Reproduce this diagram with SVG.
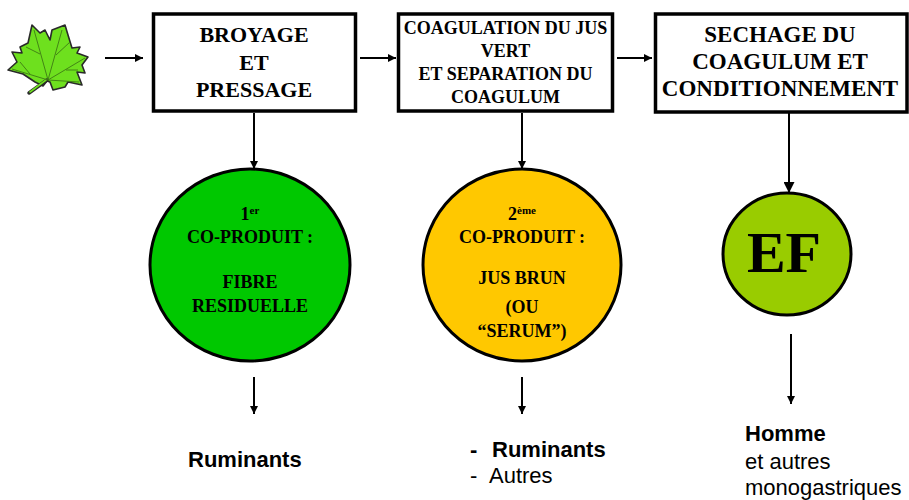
<svg xmlns="http://www.w3.org/2000/svg" width="909" height="500" viewBox="0 0 909 500">
<defs>
<style>
.box{fill:#fff;stroke:#000;stroke-width:3.5}
.bt{font-family:"Liberation Serif","Times New Roman",serif;font-weight:bold;fill:#000;text-anchor:middle}
.ct{font-family:"Liberation Serif","Times New Roman",serif;font-weight:bold;font-size:18px;fill:#000;text-anchor:middle}
.sup{font-size:11px}
.lt{font-family:"Liberation Sans",Arial,sans-serif;font-size:22px;fill:#000}
.b{font-weight:bold}
.con{stroke:#000;stroke-width:2;fill:none}
.circ{stroke:#000;stroke-width:3}
</style>
<marker id="ah" viewBox="0 0 10 10" refX="10" refY="5" markerWidth="9" markerHeight="8" markerUnits="userSpaceOnUse" orient="auto">
<path d="M0,0 L10,5 L0,10 z" fill="#000"/>
</marker>
<marker id="ahb" viewBox="0 0 10 10" refX="10" refY="5" markerWidth="12" markerHeight="11" markerUnits="userSpaceOnUse" orient="auto">
<path d="M0,0 L10,5 L0,10 z" fill="#000"/>
</marker>
</defs>
<rect width="909" height="500" fill="#fff"/>

<g id="leaf">
<path d="M47,81 L43,86 L35,82 L23,74 L8,70 L17,62 L12,52 L22,53 L20,47 L28,43 L32,25 L40,33 L45,30 L50,40 L52,30 L65,25 L68,35 L72,48 L80,47 L77,53 L88,57 L82,65 L85,73 L77,72 L82,85 L68,82 L65,87 L53,90 L50,82 Z" fill="#6ee01e" stroke="#2a2a2a" stroke-width="1.6" stroke-linejoin="round"/>
<path d="M47,80 L29,93" stroke="#2a2a2a" stroke-width="3.5" stroke-linecap="round"/>
<path d="M46,80 L30,92" stroke="#6ee01e" stroke-width="1.6" stroke-linecap="round"/>
<g stroke="#3d7a14" stroke-width="0.9" fill="none">
<path d="M48,80 L34,30"/>
<path d="M48,80 L62,30"/>
<path d="M48,80 L85,58"/>
<path d="M48,80 L12,69"/>
<path d="M48,80 L79,82"/>
<path d="M40,54 L26,47"/>
<path d="M56,55 L70,42"/>
<path d="M66,70 L78,70"/>
<path d="M30,74 L20,62"/>
</g>
</g>

<g id="box1">
<rect class="box" x="153.5" y="14" width="202" height="97"/>
<text class="bt" font-size="22" x="254" y="42">BROYAGE</text>
<text class="bt" font-size="22" x="254" y="70">ET</text>
<text class="bt" font-size="22" x="254" y="97">PRESSAGE</text>
</g>

<g id="box2">
<rect class="box" x="398.5" y="14" width="214" height="97"/>
<text class="bt" font-size="18" x="505.5" y="34">COAGULATION DU JUS</text>
<text class="bt" font-size="18" x="505.5" y="57">VERT</text>
<text class="bt" font-size="18" x="505.5" y="80">ET SEPARATION DU</text>
<text class="bt" font-size="18" x="505.5" y="103">COAGULUM</text>
</g>

<g id="box3">
<rect class="box" x="655.5" y="14" width="251.5" height="98"/>
<text class="bt" font-size="23" x="780" y="42">SECHAGE DU</text>
<text class="bt" font-size="23" x="780" y="69">COAGULUM ET</text>
<text class="bt" font-size="23" x="780" y="96">CONDITIONNEMENT</text>
</g>

<g id="coproduit1">
<ellipse class="circ" cx="250" cy="265" rx="100" ry="96" fill="#00c800"/>
<text class="ct" x="250" y="220">1<tspan class="sup" dy="-6">er</tspan></text>
<text class="ct" x="250" y="243">CO-PRODUIT :</text>
<text class="ct" x="250" y="288">FIBRE</text>
<text class="ct" x="250" y="312">RESIDUELLE</text>
</g>

<g id="coproduit2">
<ellipse class="circ" cx="522" cy="265" rx="99" ry="96" fill="#ffc800"/>
<text class="ct" x="522" y="220">2<tspan class="sup" dy="-6">ème</tspan></text>
<text class="ct" x="522" y="243">CO-PRODUIT :</text>
<text class="ct" x="522" y="284">JUS BRUN</text>
<text class="ct" x="522" y="313">(OU</text>
<text class="ct" x="522" y="337">“SERUM”)</text>
</g>

<g id="ef">
<ellipse class="circ" cx="787" cy="254" rx="64" ry="61" fill="#99cc00"/>
<text class="bt" font-size="58" x="784" y="272">EF</text>
</g>

<g id="connectors">
<line class="con" x1="105" y1="58" x2="143" y2="58" marker-end="url(#ah)"/>
<line class="con" x1="360" y1="58" x2="396" y2="58" marker-end="url(#ah)"/>
<line class="con" x1="617" y1="58" x2="652" y2="58" marker-end="url(#ah)"/>
<line class="con" x1="254" y1="113" x2="254" y2="169" marker-end="url(#ah)"/>
<line class="con" x1="522" y1="113" x2="522" y2="169" marker-end="url(#ah)"/>
<line class="con" stroke-width="3" x1="789" y1="113" x2="789" y2="193" marker-end="url(#ahb)"/>
<line class="con" x1="254" y1="377" x2="254" y2="414" marker-end="url(#ah)"/>
<line class="con" x1="522" y1="377" x2="522" y2="414" marker-end="url(#ah)"/>
<line class="con" x1="791" y1="334" x2="791" y2="404" marker-end="url(#ah)"/>
</g>

<g id="destinations">
<text class="lt b" x="188" y="467">Ruminants</text>
<text class="lt" x="470" y="457"><tspan class="b">-</tspan><tspan class="b" x="492">Ruminants</tspan></text>
<text class="lt" x="470" y="483">-<tspan x="489">Autres</tspan></text>
<text class="lt b" x="745" y="441">Homme</text>
<text class="lt" x="745" y="469">et autres</text>
<text class="lt" x="745" y="495">monogastriques</text>
</g>
</svg>
